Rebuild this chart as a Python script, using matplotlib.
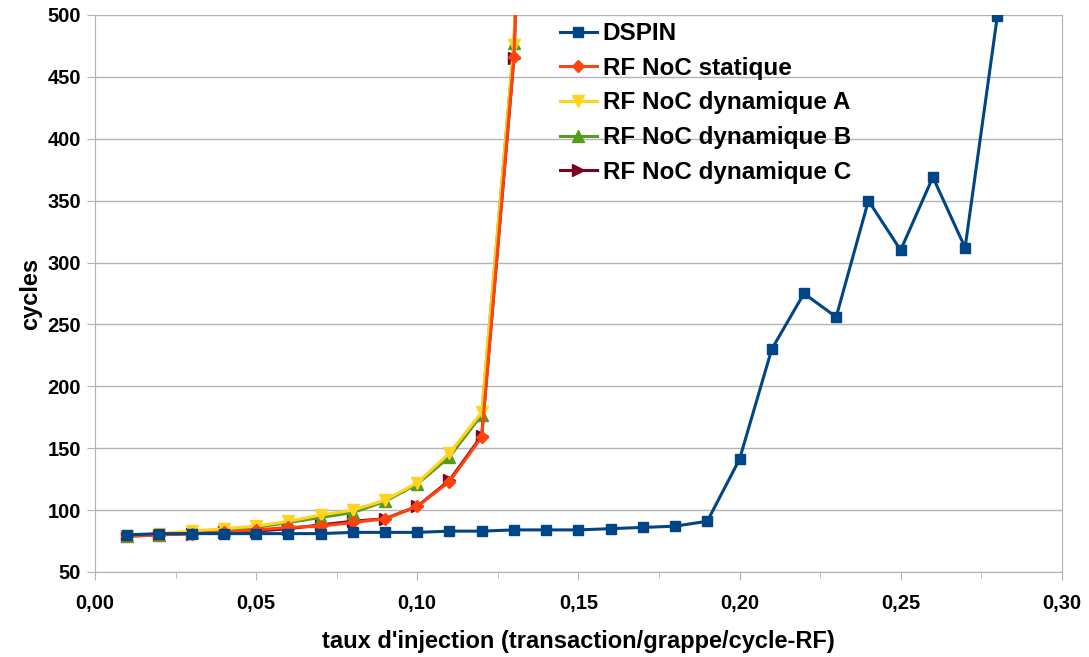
import matplotlib
matplotlib.use('Agg')
import matplotlib.pyplot as plt

x_dspin = [0.01, 0.02, 0.03, 0.04, 0.05, 0.06, 0.07, 0.08, 0.09, 0.10,
           0.11, 0.12, 0.13, 0.14, 0.15, 0.16, 0.17, 0.18, 0.19, 0.20,
           0.21, 0.22, 0.23, 0.24, 0.25, 0.26, 0.27, 0.28]
dspin = [80, 81, 81, 81, 81, 81, 81, 82, 82, 82,
         83, 83, 84, 84, 84, 85, 86, 87, 91, 141,
         230, 275, 256, 350, 310, 369, 312, 499]

x_rf = [0.01, 0.02, 0.03, 0.04, 0.05, 0.06, 0.07, 0.08, 0.09, 0.10,
        0.11, 0.12, 0.13, 0.14]
statique = [79, 80, 81, 82, 84, 86, 87, 90, 93, 103, 123, 159, 466, 1200]
dyn_a = [79, 81, 83, 85, 87, 91, 96, 100, 108, 122, 146, 179, 476, 1200]
dyn_b = [79, 80, 82, 84, 86, 90, 94, 98, 107, 121, 143, 177, 477, 1200]
dyn_c = [79, 80, 81, 82, 83, 85, 88, 91, 93, 103, 124, 160, 465, 1200]

plt.rcParams['font.family'] = ['Liberation Sans', 'DejaVu Sans']
plt.rcParams['font.weight'] = 'bold'

fig = plt.figure(figsize=(10.89, 6.57), dpi=100)
ax = fig.add_axes([0.0872, 0.1294, 0.8878, 0.8478])

# drawn in reverse order so DSPIN ends up on top
ax.plot(x_rf, dyn_c, color='#7e0021', marker='>', markersize=8, linewidth=2.2,
        label='RF NoC dynamique C', zorder=3)
ax.plot(x_rf, dyn_b, color='#579d1c', marker='^', markersize=8, linewidth=2.2,
        label='RF NoC dynamique B', zorder=4)
ax.plot(x_rf, dyn_a, color='#ffd320', marker='v', markersize=8, linewidth=2.2,
        label='RF NoC dynamique A', zorder=5)
ax.plot(x_rf, statique, color='#ff420e', marker='D', markersize=6.5, linewidth=2.2,
        label='RF NoC statique', zorder=6)
ax.plot(x_dspin, dspin, color='#004586', marker='s', markersize=7, linewidth=2.2,
        label='DSPIN', zorder=7)

ax.set_xlim(0, 0.30)
ax.set_ylim(50, 500)
ax.set_xticks([0.0, 0.05, 0.10, 0.15, 0.20, 0.25, 0.30])
ax.set_xticklabels(['0,00', '0,05', '0,10', '0,15', '0,20', '0,25', '0,30'])
ax.set_xticks([0.025, 0.075, 0.125, 0.175, 0.225, 0.275], minor=True)
ax.set_yticks(range(50, 501, 50))

ax.yaxis.grid(True, color='#b3b3b3', linewidth=1)
ax.set_axisbelow(True)
for side in ['left', 'right', 'bottom']:
    ax.spines[side].set_color('#b3b3b3')
ax.spines['top'].set_visible(False)

ax.tick_params(axis='both', which='both', color='#b3b3b3', direction='out')
ax.tick_params(axis='both', which='major', length=6, labelsize=14.5, pad=4)
ax.tick_params(axis='x', which='minor', length=4)
ax.tick_params(axis='x', which='major', pad=10)

ax.set_xlabel("taux d'injection (transaction/grappe/cycle-RF)", fontsize=17,
              fontweight='bold', labelpad=12)
ax.set_ylabel('cycles', fontsize=17, fontweight='bold', labelpad=4)

handles, labels = ax.get_legend_handles_labels()
leg = ax.legend(handles[::-1], labels[::-1], loc='upper left',
                bbox_to_anchor=(548 / 1089, 1 - 10 / 657),
                bbox_transform=fig.transFigure, frameon=False,
                fontsize=17.5, handlelength=1.5, handletextpad=0.25,
                labelspacing=0.48, borderpad=0)

fig.savefig('out.png', dpi=100)
